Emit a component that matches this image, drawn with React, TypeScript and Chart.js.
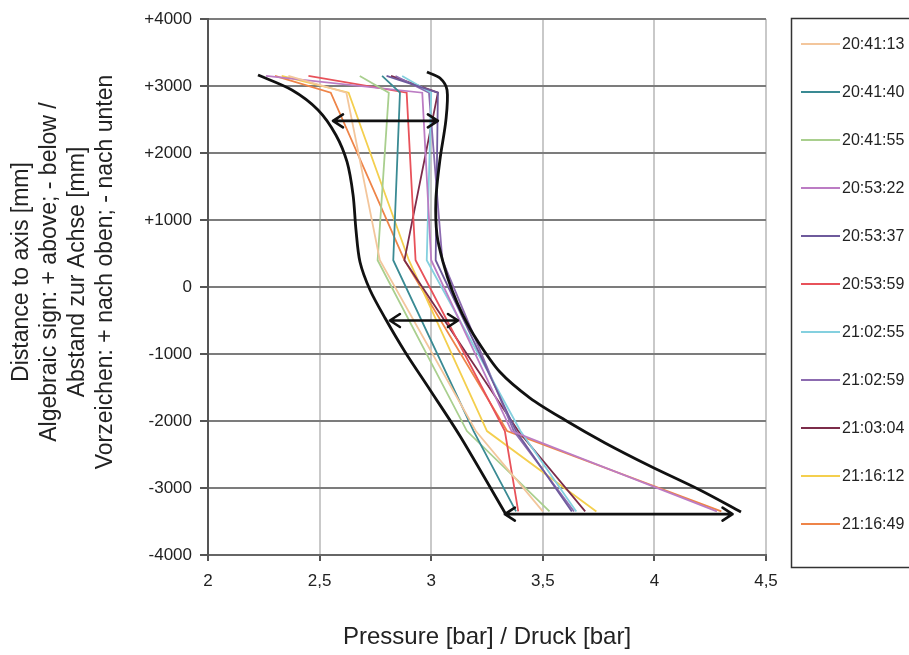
import React, { useEffect, useRef } from "react";
import { Chart, registerables } from "chart.js";

Chart.register(...registerables);

// Measurement depths (mm) shared by every time series
const depthsMm = [3150, 2900, 400, -2150, -3350];

const seriesLabels = [
  "20:41:13", "20:41:40", "20:41:55", "20:53:22", "20:53:37", "20:53:59",
  "21:02:55", "21:02:59", "21:03:04", "21:16:12", "21:16:49",
];

// Pressure (bar) at each depth, one array per time stamp
const p204113 = [2.36, 2.62, 2.77, 3.2, 3.5];
const p204140 = [2.78, 2.86, 2.83, 3.19, 3.38];
const p204155 = [2.68, 2.81, 2.76, 3.16, 3.53];
const p205322 = [2.26, 2.96, 3.0, 3.36, 4.28];
const p205337 = [2.8, 3.03, 3.02, 3.38, 3.63];
const p205359 = [2.45, 2.89, 2.93, 3.33, 3.39];
const p210255 = [2.87, 3.0, 2.98, 3.4, 3.65];
const p210259 = [2.84, 2.99, 3.05, 3.37, 3.64];
const p210304 = [2.82, 3.03, 2.88, 3.39, 3.69];
const p211612 = [2.33, 2.63, 2.9, 3.25, 3.74];
const p211649 = [2.3, 2.55, 2.88, 3.34, 4.3];

const seriesValues = [
  p204113, p204140, p204155, p205322, p205337, p205359,
  p210255, p210259, p210304, p211612, p211649,
];

const seriesColors = [
  "#F3C69C", "#3A8A93", "#A9CF8E", "#BC7CC4", "#6E5A9C", "#E8525A",
  "#84D0DF", "#8C6BB0", "#7C2C4A", "#F4CF4E", "#EE8448",
];

// Envelope curves (black)
const envLeftX = [2.224, 2.376, 2.493, 2.573, 2.623, 2.65, 2.663, 2.681, 2.726, 2.793, 2.883, 2.995, 3.129, 3.331];
const envLeftY = [3164, 2940, 2642, 2269, 1866, 1373, 851, 373, -45, -463, -970, -1537, -2224, -3373];
const envRightX = [2.981, 3.039, 3.071, 3.066, 3.039, 3.021, 3.026, 3.053, 3.093, 3.142, 3.205, 3.308, 3.443, 3.599, 3.779, 3.98, 4.204, 4.388];
const envRightY = [3209, 3119, 2940, 2493, 1896, 1299, 776, 373, -45, -418, -791, -1269, -1657, -1985, -2328, -2672, -3030, -3358];

// Double-headed arrows showing the pressure spread
const arrowDepth = [2480, -500, -3390];
const arrowFrom = [2.56, 2.815, 3.33];
const arrowTo = [3.03, 3.12, 4.35];

const yTitleLines = [
  "Distance to axis [mm]",
  "Algebraic sign: + above; - below /",
  "Abstand zur Achse [mm]",
  "Vorzeichen: + nach oben; - nach unten",
];
const xTitle = "Pressure [bar] / Druck [bar]";

const FONT = '"Liberation Sans", Arial, sans-serif';

const arrowsPlugin = {
  id: "arrows",
  afterDatasetsDraw(chart: any) {
    const { ctx, scales } = chart;
    const xs = scales.x;
    const ys = scales.y;
    ctx.save();
    ctx.strokeStyle = "#111";
    ctx.lineWidth = 2.6;
    ctx.lineCap = "round";
    ctx.lineJoin = "round";
    for (let i = 0; i < arrowDepth.length; i++) {
      const y = ys.getPixelForValue(arrowDepth[i]);
      const x1 = xs.getPixelForValue(arrowFrom[i]);
      const x2 = xs.getPixelForValue(arrowTo[i]);
      const h = 10;
      const w = 6.5;
      ctx.beginPath();
      ctx.moveTo(x1, y);
      ctx.lineTo(x2, y);
      ctx.moveTo(x1 + h, y - w);
      ctx.lineTo(x1, y);
      ctx.lineTo(x1 + h, y + w);
      ctx.moveTo(x2 - h, y - w);
      ctx.lineTo(x2, y);
      ctx.lineTo(x2 - h, y + w);
      ctx.stroke();
    }
    ctx.restore();
  },
};

const yTitlePlugin = {
  id: "yTitle",
  afterDraw(chart: any) {
    const { ctx, chartArea } = chart;
    const cy = (chartArea.top + chartArea.bottom) / 2 - 15;
    ctx.save();
    ctx.font = "23px " + FONT;
    ctx.fillStyle = "#222";
    ctx.textAlign = "center";
    ctx.textBaseline = "middle";
    yTitleLines.forEach((line, i) => {
      ctx.save();
      ctx.translate(22 + i * 28, cy);
      ctx.rotate(-Math.PI / 2);
      ctx.fillText(line, 0, 0);
      ctx.restore();
    });
    ctx.restore();
  },
};

const boxLegendPlugin = {
  id: "boxLegend",
  afterDraw(chart: any) {
    const { ctx } = chart;
    ctx.save();
    ctx.strokeStyle = "#333";
    ctx.lineWidth = 1.5;
    ctx.strokeRect(791.5, 18.5, 140, 549);
    ctx.font = "16px " + FONT;
    ctx.textBaseline = "middle";
    ctx.textAlign = "left";
    for (let i = 0; i < seriesLabels.length; i++) {
      const ds = chart.data.datasets[i];
      const y = 44 + i * 48;
      ctx.strokeStyle = ds.borderColor;
      ctx.lineWidth = 2;
      ctx.beginPath();
      ctx.moveTo(801, y);
      ctx.lineTo(840, y);
      ctx.stroke();
      ctx.fillStyle = "#222";
      ctx.fillText(ds.label, 842, y + 1);
    }
    ctx.restore();
  },
};

export default function App() {
  const canvasRef = useRef<HTMLCanvasElement | null>(null);

  useEffect(() => {
    const canvas = canvasRef.current;
    if (!canvas) return;

    const seriesDatasets = seriesLabels.map((label, i) => ({
      label,
      data: depthsMm.map((d, k) => ({ x: seriesValues[i][k], y: d })),
      borderColor: seriesColors[i],
      backgroundColor: seriesColors[i],
      borderWidth: 1.8,
      pointRadius: 0,
      showLine: true,
      tension: 0,
      order: 2,
    }));

    const envDatasets = [
      { label: "envelope-left", xs: envLeftX, ys: envLeftY },
      { label: "envelope-right", xs: envRightX, ys: envRightY },
    ].map((e) => ({
      label: e.label,
      data: e.xs.map((x, k) => ({ x, y: e.ys[k] })),
      borderColor: "#111",
      backgroundColor: "#111",
      borderWidth: 2.8,
      pointRadius: 0,
      showLine: true,
      tension: 0.3,
      order: 1,
    }));

    const chart = new Chart(canvas, {
      type: "scatter",
      data: { datasets: [...seriesDatasets, ...envDatasets] as any },
      plugins: [arrowsPlugin, yTitlePlugin, boxLegendPlugin],
      options: {
        animation: false,
        responsive: false,
        layout: { padding: { left: 0, top: 19, right: 143, bottom: 0 } },
        plugins: {
          legend: { display: false },
          tooltip: { enabled: false },
        },
        scales: {
          x: {
            type: "linear",
            min: 2,
            max: 4.5,
            ticks: {
              stepSize: 0.5,
              color: "#222",
              font: { family: FONT, size: 17 },
              padding: 10,
              callback: (v: any) => String(v).replace(".", ","),
            },
            grid: {
              color: "#c9c9c9",
              lineWidth: 2,
              tickLength: 6,
              tickColor: "#555",
            },
            border: { display: true, color: "#666", width: 2 },
            title: {
              display: true,
              text: xTitle,
              color: "#222",
              font: { family: FONT, size: 24 },
              padding: { top: 0, bottom: 3 },
            },
            afterFit: (s: any) => {
              s.height = 100;
            },
          },
          y: {
            type: "linear",
            min: -4000,
            max: 4000,
            ticks: {
              stepSize: 1000,
              color: "#222",
              font: { family: FONT, size: 17 },
              padding: 8,
              callback: (v: any) => (v > 0 ? "+" + v : String(v)),
            },
            grid: {
              color: "#7c7c7c",
              lineWidth: 2,
              tickLength: 8,
              tickColor: "#555",
            },
            border: { display: true, color: "#555", width: 2 },
            title: { display: false },
            afterFit: (s: any) => {
              s.width = 208;
            },
          },
        },
      },
    });

    return () => chart.destroy();
  }, []);

  return (
    <div style={{ position: "fixed", left: 0, top: 0, width: 909, height: 655, background: "#fff" }}>
      <canvas ref={canvasRef} width={909} height={655} style={{ display: "block" }} />
    </div>
  );
}
